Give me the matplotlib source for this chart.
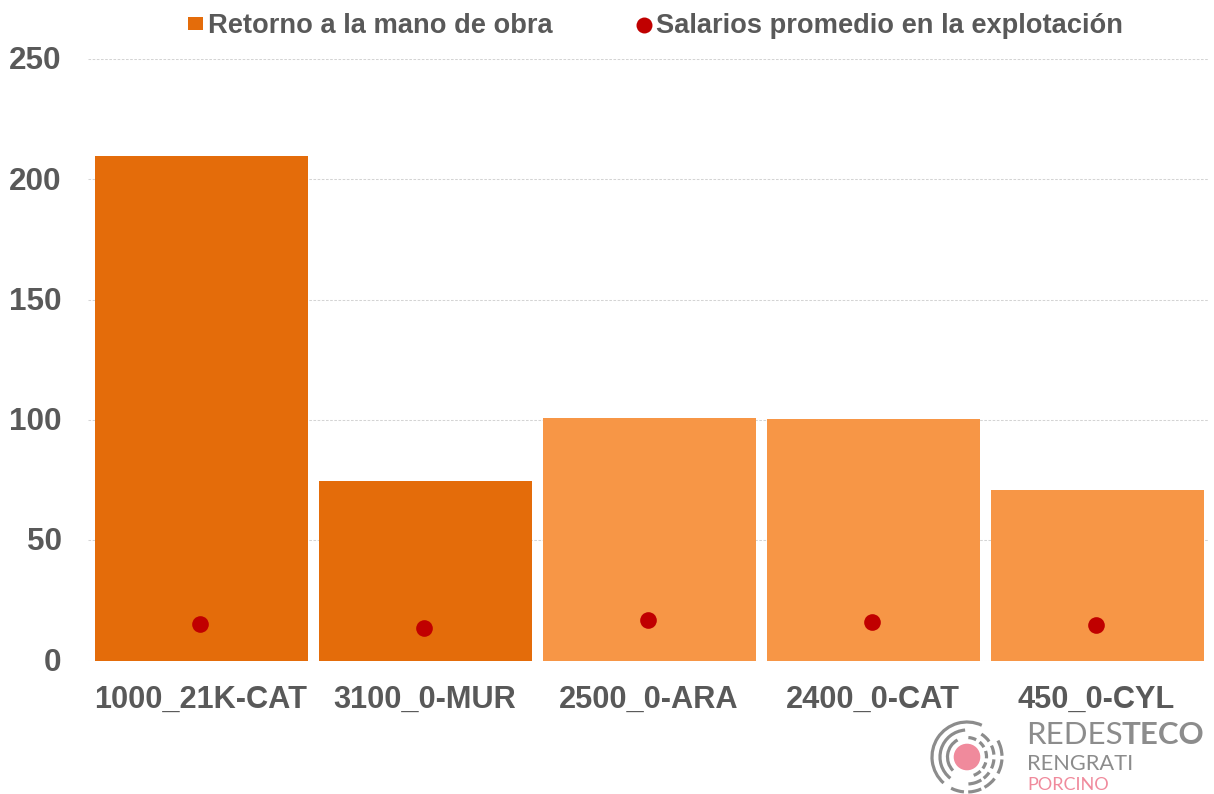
import matplotlib
matplotlib.use('Agg')
import matplotlib.pyplot as plt
from matplotlib.lines import Line2D
from matplotlib.patches import Arc, Circle, Patch
from matplotlib.transforms import ScaledTranslation

categories = ['1000_21K-CAT', '3100_0-MUR', '2500_0-ARA', '2400_0-CAT', '450_0-CYL']
retorno = [209.8, 74.6, 100.8, 100.5, 70.9]
salarios = [15.2, 13.5, 16.8, 16.2, 14.8]
bar_colors = ['#E46C0A', '#E46C0A', '#F79646', '#F79646', '#F79646']
yticks = [0, 50, 100, 150, 200, 250]

W, H = 1214, 794
TEXT = '#595959'
LOGO = '#8C8C8C'
PINK = '#F08A9C'

plt.rcParams['font.family'] = ['Liberation Sans', 'DejaVu Sans']

fig = plt.figure(figsize=(W / 100, H / 100), dpi=100)
ax = fig.add_axes([88 / W, 1 - 660.5 / H, 1120 / W, 601.5 / H])

x = list(range(len(categories)))
# bars sit 1.5 px right of the category centres in the original
ax.bar([i + 0.007 for i in x], retorno, width=0.954, color=bar_colors, zorder=2)
ax.plot(x, salarios, ls='none', marker='o', ms=12, color='#C00000', mec='none', zorder=3)

ax.set_xlim(-0.5, 4.5)
ax.set_ylim(0, 250)
ax.set_yticks(yticks)
ax.set_xticks(x)
ax.set_xticklabels(categories)
ax.tick_params(axis='y', length=0, pad=19, labelsize=22.6, labelcolor=TEXT)
ax.tick_params(axis='x', length=0, pad=17.5, labelsize=22.15, labelcolor=TEXT)
up = ScaledTranslation(0, 1.2 / 100, fig.dpi_scale_trans)
right = ScaledTranslation(0.5 / 100, 0, fig.dpi_scale_trans)
for lab in ax.get_yticklabels():
    lab.set_fontweight('bold')
    lab.set_transform(lab.get_transform() + up)
for lab in ax.get_xticklabels():
    lab.set_fontweight('bold')
    lab.set_transform(lab.get_transform() + right)
ax.grid(axis='y', color='#D4D4D4', lw=0.75, ls=(0, (2.5, 1.5)), zorder=1)
ax.set_axisbelow(True)
for s in ax.spines.values():
    s.set_visible(False)

handles = [Patch(facecolor='#E46C0A', lw=0),
           Line2D([], [], ls='none', marker='o', ms=11.5, color='#C00000', mec='none')]
fig.legend(handles, ['Retorno a la mano de obra', 'Salarios promedio en la explotación'],
           loc='center', bbox_to_anchor=(655.5 / W, 1 - 26 / H), ncol=2, frameon=False,
           prop={'size': 19.6, 'weight': 'bold'}, labelcolor=TEXT, handlelength=0.55,
           handleheight=0.36, handletextpad=0.18, columnspacing=3.07, borderpad=0)

# logo, drawn in pixel coordinates (y points down, so angles run clockwise)
logo = fig.add_axes([0, 0, 1, 1], facecolor='none')
logo.set_xlim(0, W)
logo.set_ylim(H, 0)
logo.axis('off')
cx, cy = 967, 757
logo.add_patch(Circle((cx, cy), 13.3, color=PINK, lw=0))
rings = [
    (35, [(-28, -2), (4, 28), (38, 60), (66, 88), (95, 117), (132, 295)]),
    (27, [(-58, -35), (-25, -5), (5, 25), (35, 52), (58, 87), (128, 266)]),
    (19.5, [(-86, -62), (-50, -30), (-18, 4), (16, 36), (46, 70), (136, 241)]),
]
for r, arcs in rings:
    for a, b in arcs:
        logo.add_patch(Arc((cx, cy), 2 * r, 2 * r, theta1=a, theta2=b, color=LOGO, lw=2.3))

redes = logo.text(1026, 744, 'REDES', family='Lato', weight='normal', fontsize=22.5,
                  color=LOGO, va='baseline')
fig.canvas.draw()
bb = redes.get_window_extent()
logo.text(bb.x1 - 1, 744, 'TECO', family='Lato', weight='bold', fontsize=22.5,
          color=LOGO, va='baseline')
logo.text(1027, 770, 'RENGRATI', family='Lato', weight='normal', fontsize=15.7,
          color=LOGO, va='baseline')
logo.text(1027, 790.5, 'PORCINO', family='Lato', weight='normal', fontsize=13,
          color=PINK, va='baseline')

fig.savefig('out.png', dpi=100)
